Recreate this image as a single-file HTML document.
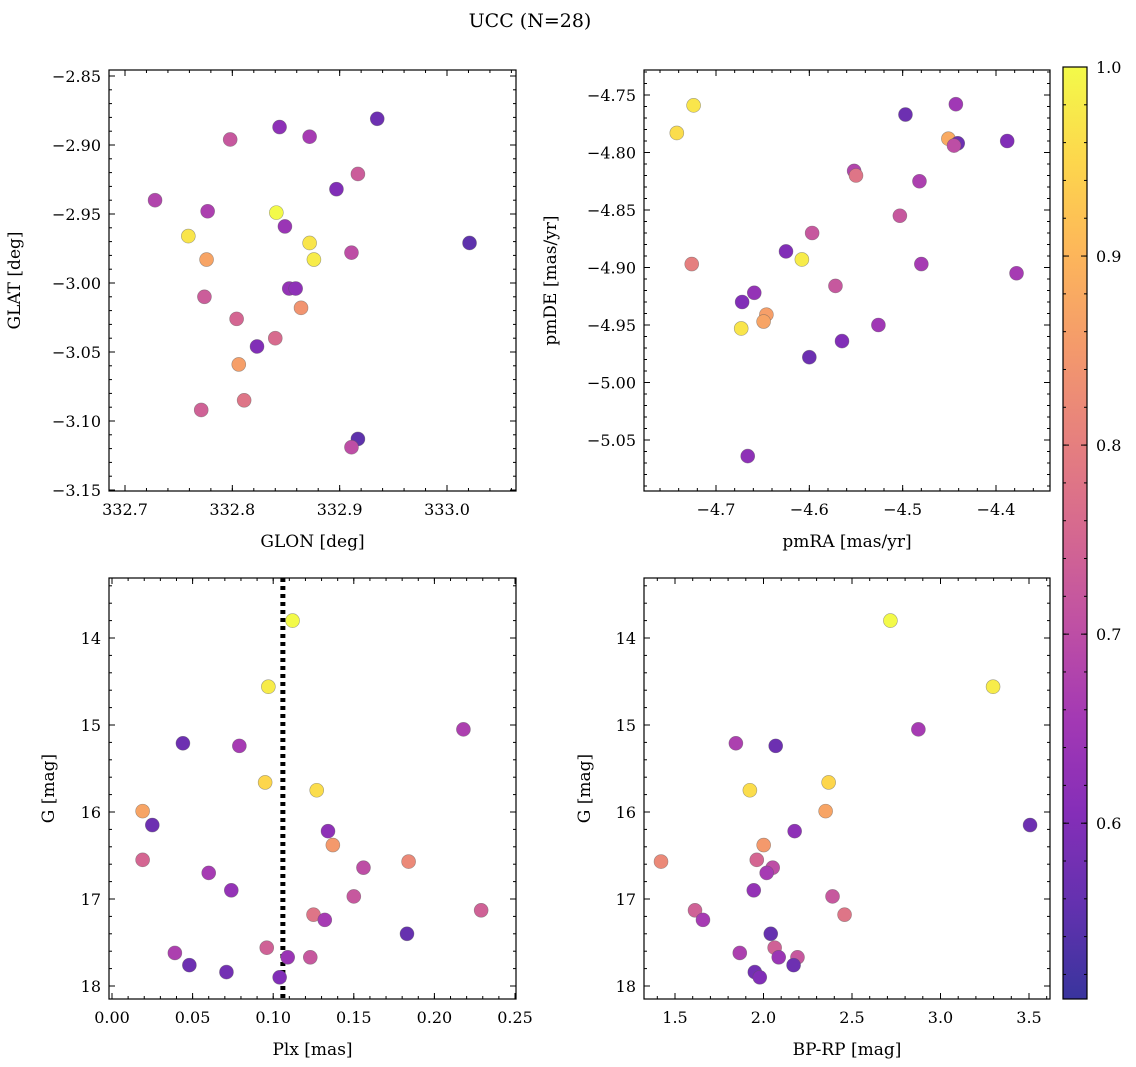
<!DOCTYPE html>
<html><head><meta charset="utf-8">
<style>
html,body{margin:0;padding:0;background:#fff;}
svg{display:block;font-family:"DejaVu Serif","Liberation Serif",serif;}
</style></head>
<body>
<svg id="fig" width="1136" height="1067" viewBox="0 0 1136 1067">
<text x="530" y="27" text-anchor="middle" font-size="19">UCC (N=28)</text>
</svg>
<script>
// ---- data ----
const probs1 = [0.68,0.72,0.62,0.66,0.57,0.60,0.73,0.67,0.97,1.00,0.64,0.97,0.98,0.87,0.70,0.55,0.73,0.63,0.62,0.84,0.75,0.76,0.60,0.86,0.78,0.74,0.55,0.70];
const glon = [332.728,332.798,332.844,332.872,332.935,332.897,332.917,332.777,332.759,332.841,332.849,332.872,332.876,332.776,332.911,333.021,332.774,332.853,332.859,332.864,332.804,332.840,332.823,332.806,332.811,332.771,332.917,332.911];
const glat = [-2.940,-2.896,-2.887,-2.894,-2.881,-2.932,-2.921,-2.948,-2.966,-2.949,-2.959,-2.971,-2.983,-2.983,-2.978,-2.971,-3.010,-3.004,-3.004,-3.018,-3.026,-3.040,-3.046,-3.059,-3.085,-3.092,-3.113,-3.119];

const probs2 = [0.96,0.97,0.65,0.57,0.88,0.57,0.70,0.60,0.68,0.78,0.67,0.72,0.72,0.60,0.98,0.80,0.66,0.66,0.72,0.63,0.60,0.86,0.87,0.97,0.65,0.57,0.60,0.62];
const pmra = [-4.742,-4.724,-4.443,-4.497,-4.451,-4.441,-4.445,-4.388,-4.552,-4.550,-4.482,-4.503,-4.597,-4.625,-4.608,-4.726,-4.480,-4.378,-4.572,-4.659,-4.672,-4.646,-4.649,-4.673,-4.526,-4.600,-4.565,-4.666];
const pmde = [-4.783,-4.759,-4.758,-4.767,-4.788,-4.792,-4.794,-4.790,-4.816,-4.820,-4.825,-4.855,-4.870,-4.886,-4.893,-4.897,-4.897,-4.905,-4.916,-4.922,-4.930,-4.941,-4.947,-4.953,-4.950,-4.978,-4.964,-5.064];

const probs3 = [1.00,0.98,0.57,0.66,0.67,0.95,0.96,0.87,0.57,0.62,0.85,0.75,0.82,0.70,0.66,0.63,0.72,0.74,0.78,0.66,0.56,0.74,0.67,0.72,0.64,0.57,0.58,0.60];
const plx = [0.112,0.097,0.044,0.079,0.218,0.095,0.127,0.019,0.025,0.134,0.137,0.019,0.184,0.156,0.060,0.074,0.150,0.229,0.125,0.132,0.183,0.096,0.039,0.123,0.109,0.048,0.071,0.104];
const gmag = [13.80,14.56,15.21,15.24,15.05,15.66,15.75,15.99,16.15,16.22,16.38,16.55,16.57,16.64,16.70,16.90,16.97,17.13,17.18,17.24,17.40,17.56,17.62,17.67,17.67,17.76,17.84,17.90];
const bprp = [2.717,3.297,1.844,2.069,2.875,2.368,1.923,2.351,3.506,2.176,2.001,1.962,1.421,2.052,2.018,1.945,2.390,1.613,2.458,1.658,2.041,2.063,1.866,2.192,2.086,2.170,1.951,1.979];
const probs4 = [1.00,0.98,0.67,0.57,0.66,0.95,0.96,0.87,0.57,0.62,0.85,0.75,0.82,0.70,0.66,0.63,0.72,0.74,0.78,0.66,0.56,0.74,0.67,0.72,0.64,0.57,0.58,0.60];
const plxLine = [0.106];

const cbTicks = [0.6,0.7,0.8,0.9,1.0];
const cbMin = 0.507, cbMax = 1.0;

// ---- helpers ----
const NS = "http://www.w3.org/2000/svg";
const svg = document.getElementById('fig');
function mk(tag, attrs, parent){const e=document.createElementNS(NS,tag);for(const k in attrs)e.setAttribute(k,attrs[k]);(parent||svg).appendChild(e);return e;}
const plasma=[[13,8,135],[65,4,157],[106,0,168],[143,13,164],[177,42,144],[204,71,120],[225,100,98],[242,132,75],[252,166,54],[252,206,37],[240,249,33]];
function cmap(t){t=Math.max(0,Math.min(1,t));const p=t*10,i=Math.min(9,Math.floor(p)),f=p-i;const a=plasma[i],b=plasma[i+1];
 const c=a.map((v,k)=>v+(b[k]-v)*f);const al=0.82;return `rgb(${c.map(v=>Math.round(v*al+255*(1-al))).join(',')})`;}
function pc(v){return cmap((v-cbMin)/(cbMax-cbMin));}
function lin(d0,p0,d1,p1){return v=>p0+(v-d0)*(p1-p0)/(d1-d0);}

function panel(cfg){
 const g=mk('g',{});
 
 
 const {x0,x1,y0,y1}=cfg.box;
 const sx=cfg.sx, sy=cfg.sy;
 // ticks
 function ticksX(vals,len,labels){vals.forEach(v=>{const p=sx(v);if(p<x0-0.5||p>x1+0.5)return;
   mk('line',{x1:p,x2:p,y1:y1,y2:y1-len,stroke:'#000','stroke-width':1},g);
   mk('line',{x1:p,x2:p,y1:y0,y2:y0+len,stroke:'#000','stroke-width':1},g);
   if(labels){const t=mk('text',{x:p,y:y1+24,'text-anchor':'middle','font-size':16},g);t.textContent=cfg.fx(v);
     }});}
 function ticksY(vals,len,labels){vals.forEach(v=>{const p=sy(v);if(p<y0-0.5||p>y1+0.5)return;
   mk('line',{x1:x0,x2:x0+len,y1:p,y2:p,stroke:'#000','stroke-width':1},g);
   mk('line',{x1:x1,x2:x1-len,y1:p,y2:p,stroke:'#000','stroke-width':1},g);
   if(labels){const t=mk('text',{x:x0-8,y:p+6,'text-anchor':'end','font-size':16},g);t.textContent=cfg.fy(v);
     }});}
 ticksX(cfg.xminor,3,false);ticksX(cfg.xmajor,6,true);
 ticksY(cfg.yminor,3,false);ticksY(cfg.ymajor,6,true);
 if(cfg.vline!==undefined){const p=sx(cfg.vline);
   const l=mk('line',{x1:p,x2:p,y1:y0,y2:y1,stroke:'#000','stroke-width':5,'stroke-dasharray':'4,4'},g);
   }
 cfg.xs.forEach((xv,i)=>{const c=mk('circle',{cx:sx(xv),cy:sy(cfg.ys[i]),r:7,fill:pc(cfg.c[i]),stroke:'rgba(90,90,90,0.55)','stroke-width':0.6},g);
   });
 const r=mk('rect',{x:x0,y:y0,width:x1-x0,height:y1-y0,fill:'none',stroke:'#000','stroke-width':1.2},g);
 
 const xl=mk('text',{x:(x0+x1)/2,y:y1+56,'text-anchor':'middle','font-size':17},g);xl.textContent=cfg.xlabel;
 
 const yl=mk('text',{x:cfg.ylx,y:(y0+y1)/2,'text-anchor':'middle','font-size':17,transform:`rotate(-90 ${cfg.ylx} ${(y0+y1)/2})`},g);yl.textContent=cfg.ylabel;
 
}
function range(a,b,s){const r=[];for(let v=a;v<=b+s/1000;v+=s)r.push(+v.toFixed(6));return r;}

panel({name:'glon-glat-panel',box:{x0:109,x1:516,y0:70,y1:491},
 sx:lin(332.7,125,333.0,447),sy:lin(-2.85,76,-3.15,490),
 xmajor:range(332.7,333.1,0.1),xminor:range(332.68,333.12,0.02),
 ymajor:range(-3.15,-2.85,0.05),ymajor:[-2.85,-2.9,-2.95,-3.0,-3.05,-3.1,-3.15],yminor:range(-3.16,-2.84,0.01),
 fx:v=>v.toFixed(1),fy:v=>'\u2212'+Math.abs(v).toFixed(2),
 xs:glon,ys:glat,c:probs1,xlabel:'GLON [deg]',ylabel:'GLAT [deg]',ylx:20});
panel({name:'pm-panel',box:{x0:644,x1:1050,y0:70,y1:491},
 sx:lin(-4.7,716,-4.4,996),sy:lin(-4.75,95,-5.05,440),
 xmajor:[-4.7,-4.6,-4.5,-4.4],xminor:range(-4.78,-4.32,0.02),
 ymajor:[-4.75,-4.8,-4.85,-4.9,-4.95,-5.0,-5.05],yminor:range(-5.1,-4.72,0.01),
 fx:v=>'\u2212'+Math.abs(v).toFixed(1),fy:v=>'\u2212'+Math.abs(v).toFixed(2),
 xs:pmra,ys:pmde,c:probs2,xlabel:'pmRA [mas/yr]',ylabel:'pmDE [mas/yr]',ylx:556});
panel({name:'plx-g-panel',box:{x0:109,x1:516,y0:578,y1:999},
 sx:lin(0,112,0.25,515),sy:lin(14,638,18,986),
 xmajor:[0,0.05,0.1,0.15,0.2,0.25],xminor:range(0,0.26,0.01),
 ymajor:[14,15,16,17,18],yminor:range(13.4,18.2,0.2),
 fx:v=>v.toFixed(2),fy:v=>v.toFixed(0),vline:plxLine[0],
 xs:plx,ys:gmag,c:probs3,xlabel:'Plx [mas]',ylabel:'G [mag]',ylx:54});
panel({name:'color-g-panel',box:{x0:644,x1:1050,y0:578,y1:999},
 sx:lin(1.5,675,3.5,1029),sy:lin(14,638,18,986),
 xmajor:[1.5,2,2.5,3,3.5],xminor:range(1.3,4.0,0.1),
 ymajor:[14,15,16,17,18],yminor:range(13.4,18.2,0.2),
 fx:v=>v.toFixed(1),fy:v=>v.toFixed(0),
 xs:bprp,ys:gmag,c:probs4,xlabel:'BP-RP [mag]',ylabel:'G [mag]',ylx:590});

// colorbar
const cb=mk('g',{});


const defs=mk('defs',{},cb);
const grad=mk('linearGradient',{id:'cbg',x1:0,y1:1,x2:0,y2:0},defs);
for(let i=0;i<=20;i++){mk('stop',{offset:i/20,'stop-color':cmap(i/20)},grad);}
const cbY0=67,cbY1=999,cbX0=1063,cbX1=1087;
mk('rect',{x:cbX0,y:cbY0,width:cbX1-cbX0,height:cbY1-cbY0,fill:'url(#cbg)',stroke:'#000','stroke-width':1.2},cb);
const cy=lin(cbMin,cbY1,cbMax,cbY0);
range(0.52,1.0,0.02).forEach(v=>{const p=cy(v);mk('line',{x1:cbX1,x2:cbX1-3,y1:p,y2:p,stroke:'#000'},cb);mk('line',{x1:cbX0,x2:cbX0+3,y1:p,y2:p,stroke:'#000'},cb);});
cbTicks.forEach(v=>{const p=cy(v);mk('line',{x1:cbX1,x2:cbX1-6,y1:p,y2:p,stroke:'#000'},cb);mk('line',{x1:cbX0,x2:cbX0+6,y1:p,y2:p,stroke:'#000'},cb);
 const t=mk('text',{x:cbX1+9,y:p+6,'font-size':16},cb);t.textContent=v.toFixed(1);
 });
</script>
</body></html>
